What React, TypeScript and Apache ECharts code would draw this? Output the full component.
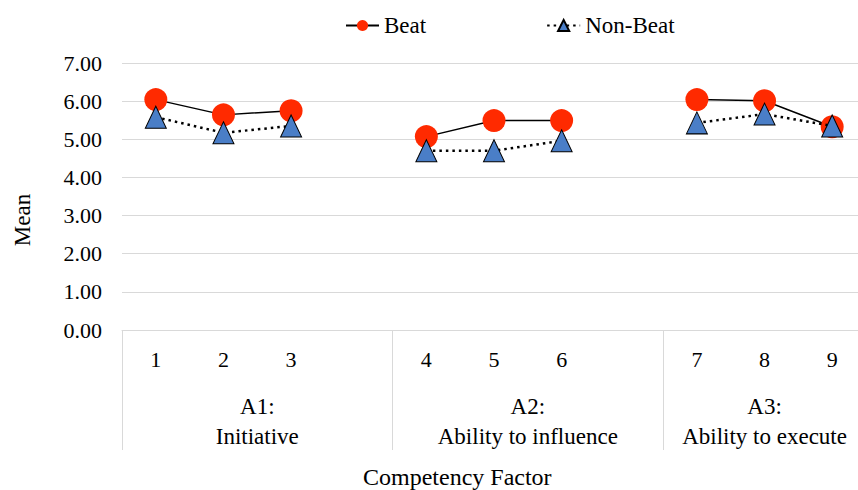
import React, { useEffect, useRef } from "react";
import * as echarts from "echarts";

const categories = ["1", "2", "3", "", "4", "5", "6", "", "7", "8", "9"];
const beat = [6.04, 5.64, 5.75, null, 5.07, 5.49, 5.49, null, 6.04, 6.01, 5.33];
const nonBeat = [5.58, 5.17, 5.35, null, 4.7, 4.7, 4.96, null, 5.43, 5.66, 5.35];
const groupLabels = ["A1:\nInitiative", "A2:\nAbility to influence", "A3:\nAbility to execute"];
const groupSizes = [4, 4, 3];
const yMin = 0;
const yMax = 7;
const yStep = 1;

const FONT = "Liberation Serif";

export default function App() {
  const ref = useRef<HTMLDivElement>(null);

  useEffect(() => {
    document.body.style.margin = "0";
    if (!ref.current) return;
    const chart = echarts.init(ref.current, null, { renderer: "svg" });

    const total = groupSizes.reduce((a, b) => a + b, 0);
    const halfCats: string[] = new Array(total * 2 + 1).fill("");
    const boundaryIdx: number[] = [];
    let start = 0;
    groupSizes.forEach((s, i) => {
      boundaryIdx.push(start * 2);
      halfCats[start * 2 + s] = groupLabels[i];
      start += s;
    });
    const labelIdx = new Set<number>();
    halfCats.forEach((c, i) => { if (c) labelIdx.add(i); });

    chart.setOption({
      animation: false,
      legend: {
        left: 340,
        top: 9,
        itemWidth: 33,
        itemHeight: 14,
        itemGap: 120,
        textStyle: { fontFamily: FONT, fontSize: 23, color: "#000" },
        data: ["Beat", "Non-Beat"],
      },
      grid: {
        left: 122,
        top: 63,
        width: 744,
        height: 267,
        containLabel: false,
        outerBoundsMode: "none",
      },
      title: {
        text: "Competency Factor",
        left: 363,
        top: 465,
        padding: 0,
        textStyle: { fontFamily: FONT, fontSize: 24, fontWeight: "normal", color: "#000" },
      },
      graphic: [
        {
          type: "text",
          x: 22,
          y: 220,
          rotation: Math.PI / 2,
          style: {
            text: "Mean",
            fontFamily: FONT,
            fontSize: 23,
            fill: "#000",
            align: "center",
            verticalAlign: "middle",
          },
        },
      ],
      xAxis: [
        {
          type: "category",
          data: categories,
          boundaryGap: true,
          axisLine: { show: true, lineStyle: { color: "#d9d9d9", width: 1 } },
          axisTick: { show: false },
          axisLabel: { interval: 0, margin: 18, fontFamily: FONT, fontSize: 22, color: "#000" },
          splitLine: { show: false },
        },
        {
          type: "category",
          data: halfCats,
          boundaryGap: false,
          position: "bottom",
          axisLine: { show: false },
          axisTick: {
            show: true,
            length: 120,
            interval: (i: number) => boundaryIdx.includes(i),
            lineStyle: { color: "#d9d9d9", width: 1 },
          },
          axisLabel: {
            interval: (i: number) => labelIdx.has(i),
            margin: 61,
            fontFamily: FONT,
            fontSize: 23,
            lineHeight: 30,
            color: "#000",
            align: "center",
          },
          splitLine: { show: false },
        },
      ],
      yAxis: {
        type: "value",
        min: yMin,
        max: yMax,
        interval: yStep,
        axisLine: { show: false },
        axisTick: { show: false },
        axisLabel: {
          margin: 20,
          fontFamily: FONT,
          fontSize: 22,
          color: "#000",
          formatter: (v: number) => v.toFixed(2),
        },
        splitLine: { show: true, lineStyle: { color: "#d9d9d9", width: 1 } },
      },
      series: [
        {
          name: "Beat",
          type: "line",
          data: beat,
          connectNulls: false,
          symbol: "circle",
          symbolSize: [23, 23],
          itemStyle: { color: "#ff2a00", borderWidth: 0 },
          lineStyle: { color: "#000", width: 1.5, type: "solid" },
          z: 2,
        },
        {
          name: "Non-Beat",
          type: "line",
          data: nonBeat,
          connectNulls: false,
          symbol: "triangle",
          symbolSize: [21, 22],
          itemStyle: { color: "#4a7ec7", borderColor: "#000", borderWidth: 1 },
          lineStyle: { color: "#000", width: 2.5, type: [2.5, 4] },
          z: 3,
        },
      ],
    });
    return () => chart.dispose();
  }, []);

  return <div ref={ref} style={{ width: 858, height: 490 }} />;
}
